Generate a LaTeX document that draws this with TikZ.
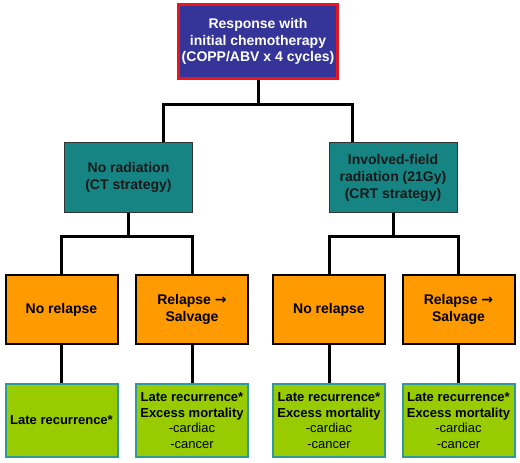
\documentclass[tikz,border=0pt]{standalone}
\usepackage{fontspec}
\setmainfont{Liberation Sans}
\newfontfamily\arrowfont{DejaVu Sans}
\definecolor{topblue}{HTML}{343499}
\definecolor{topred}{HTML}{E8141E}
\definecolor{teal}{HTML}{178484}
\definecolor{orng}{HTML}{FF9A00}
\definecolor{lime}{HTML}{99CC00}
\definecolor{limeedge}{HTML}{2E9A9A}
\newcommand{\relarrow}{{\arrowfont\bfseries →}}
\begin{document}
\begin{tikzpicture}[x=1pt,y=-1pt,
    box/.style={align=center,inner sep=2pt,font=\fontsize{14}{17}\selectfont\bfseries},
    start/.style={box,draw=topred,line width=3pt,fill=topblue,text=white,
      minimum width=159pt,minimum height=74pt,font=\fontsize{14}{16.5}\selectfont\bfseries},
    arm/.style={box,draw=black!80,line width=1pt,fill=teal,text=black!90,
      minimum width=128pt,minimum height=70pt},
    course/.style={box,draw=black,line width=2pt,fill=orng,text=black,
      minimum width=112pt,minimum height=69pt},
    outcome/.style={box,draw=limeedge,line width=2pt,fill=lime,text=black,
      minimum width=112pt,minimum height=73pt,font=\fontsize{13}{15.5}\selectfont},
    link/.style={draw=black,line width=3pt}]
  \useasboundingbox (0,0) rectangle (520,463);
  % top
  \node[start] (top) at (258,41.5) {Response with\\initial chemotherapy\\(COPP/ABV x 4 cycles)};
  % treatment arms
  \node[arm] (noRad) at (128.5,177.5) {No radiation\\(CT strategy)};
  \node[arm] (invRad) at (393,177.5) {Involved-field\\radiation (21Gy)\\(CRT strategy)};
  % relapse or not
  \node[course] (ctNo)   at (61.5,309.5)  {No relapse};
  \node[course] (ctRel)  at (192,309.5)   {Relapse \relarrow\\Salvage};
  \node[course] (crtNo)  at (329,309.5)   {No relapse};
  \node[course] (crtRel) at (458.5,309.5) {Relapse \relarrow\\Salvage};
  % outcomes
  \node[outcome] (ctNoOut)   at (61.5,420.5)  {\bfseries Late recurrence*};
  \node[outcome] (ctRelOut)  at (192,420.5)   {\bfseries Late recurrence*\\\bfseries Excess mortality\\-cardiac\\-cancer};
  \node[outcome] (crtNoOut)  at (329,420.5)   {\bfseries Late recurrence*\\\bfseries Excess mortality\\-cardiac\\-cancer};
  \node[outcome] (crtRelOut) at (458.5,420.5) {\bfseries Late recurrence*\\\bfseries Excess mortality\\-cardiac\\-cancer};
  % connectors
  \coordinate (barL) at (163,104);
  \coordinate (barR) at (352,104);
  \begin{scope}[link]
    \draw (top.south) |- (barL) -- (barL |- noRad.north);
    \draw (top.south) |- (barR) -- (barR |- invRad.north);
    \draw (noRad.south) -- ++(0,23) coordinate (ctJ) -| (ctNo.north);
    \draw (ctJ) -| (ctRel.north);
    \draw (invRad.south) -- ++(0,23) coordinate (crtJ) -| (crtNo.north);
    \draw (crtJ) -| (crtRel.north);
    \draw (ctNo) -- (ctNoOut);
    \draw (ctRel) -- (ctRelOut);
    \draw (crtNo) -- (crtNoOut);
    \draw (crtRel) -- (crtRelOut);
  \end{scope}
\end{tikzpicture}
\end{document}
